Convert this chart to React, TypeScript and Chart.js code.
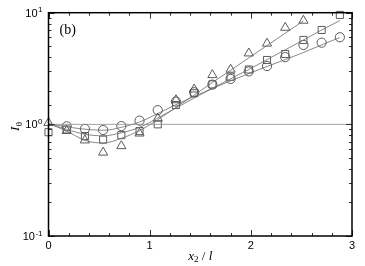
import React, { useEffect, useRef } from "react";
import { Chart, registerables } from "chart.js";

Chart.register(...registerables);

// ---- data ----
const xPositions = [0, 0.18, 0.36, 0.54, 0.72, 0.9, 1.08, 1.26, 1.44, 1.62, 1.8, 1.98, 2.16, 2.34, 2.52, 2.7, 2.88];

const circleValues = [null, 0.96, 0.91, 0.89, 0.965, 1.08, 1.34, 1.6, 1.94, 2.27, 2.55, 2.98, 3.33, 4.0, 5.14, 5.39, 6.03];
const squareValues = [0.85, 0.9, 0.785, 0.73, 0.8, 0.87, 1.0, 1.49, 1.9, 2.28, 2.67, 3.1, 3.77, 4.27, 5.7, 7.0, 9.55];
const triangleValues = [1.03, 0.875, 0.72, 0.56, 0.64, 0.83, 1.13, 1.65, 2.06, 2.77, 3.1, 4.33, 5.3, 7.35, 8.5];

const circleFit = [1.01, 0.95, 0.905, 0.885, 0.94, 1.05, 1.25, 1.5, 1.78, 2.1, 2.45, 2.85, 3.3, 3.8, 4.4, 5.15, 6.0];
const squareFit = [1.01, 0.9, 0.815, 0.79, 0.84, 0.94, 1.14, 1.4, 1.72, 2.1, 2.56, 3.1, 3.8, 4.65, 5.7, 7.0, 8.5];
const triangleFit = [1.02, 0.87, 0.72, 0.68, 0.75, 0.88, 1.1, 1.42, 1.83, 2.37, 3.05, 3.94, 5.08, 6.55, 8.45];

const refLineX = [0, 3];
const refLineY = [1, 1];

const xTickLabels = ["0", "1", "2", "3"];
const yTickDecades = [-1, 0, 1];

const panelLabel = "(b)";

// ---- helpers ----
const toPoints = (xs: number[], ys: (number | null)[]) =>
  ys.map((y, i) => ({ x: xs[i], y }));

const isInt = (v: number) => Math.abs(v - Math.round(v)) < 1e-6;

const SERIF = "'Liberation Serif', 'Times New Roman', serif";
const SANS = "'Liberation Sans', Arial, sans-serif";

const decorPlugin = {
  id: "decor",
  afterDatasetsDraw(chart: any) {
    const { ctx, chartArea: a, scales } = chart;
    const xs = scales.x;
    const ys = scales.y;
    ctx.save();

    // inside tick marks
    ctx.strokeStyle = "#333";
    ctx.lineWidth = 1;
    ctx.beginPath();
    xs.ticks.forEach((t: any) => {
      const px = Math.round(xs.getPixelForValue(t.value)) + 0.5;
      const len = isInt(t.value) ? 6 : 3;
      ctx.moveTo(px, a.bottom);
      ctx.lineTo(px, a.bottom - len);
      ctx.moveTo(px, a.top);
      ctx.lineTo(px, a.top + len);
    });
    ys.ticks.forEach((t: any) => {
      const py = Math.round(ys.getPixelForValue(t.value)) + 0.5;
      const len = isInt(Math.log10(t.value)) ? 6 : 3;
      ctx.moveTo(a.left, py);
      ctx.lineTo(a.left + len, py);
      ctx.moveTo(a.right, py);
      ctx.lineTo(a.right - len, py);
    });
    ctx.stroke();

    // frame
    ctx.strokeStyle = "#000";
    ctx.lineWidth = 1.5;
    ctx.strokeRect(a.left, a.top, a.right - a.left, a.bottom - a.top);

    // y tick labels 10^n
    ctx.fillStyle = "#000";
    yTickDecades.forEach((e) => {
      const py = ys.getPixelForValue(Math.pow(10, e));
      const expText = String(e);
      ctx.font = `8px ${SANS}`;
      const expW = ctx.measureText(expText).width;
      const xEnd = a.left - 6;
      ctx.textAlign = "left";
      ctx.textBaseline = "alphabetic";
      ctx.fillText(expText, xEnd - expW, py - 0.5);
      ctx.font = `11px ${SANS}`;
      ctx.textAlign = "right";
      ctx.textBaseline = "middle";
      ctx.fillText("10", xEnd - expW - 0.5, py + 1);
    });

    // panel label
    ctx.font = `14px ${SERIF}`;
    ctx.textAlign = "left";
    ctx.textBaseline = "alphabetic";
    ctx.fillText(panelLabel, 59.5, 34);

    // x axis title: x2 / l
    {
      const base = 259.5;
      const parts = [
        { t: "x", f: `italic 13px ${SERIF}`, dy: 0 },
        { t: "2", f: `9px ${SERIF}`, dy: 2.5 },
        { t: " / ", f: `13px ${SERIF}`, dy: 0 },
        { t: "l", f: `italic 13px ${SERIF}`, dy: 0 },
      ];
      let total = 0;
      parts.forEach((p) => {
        ctx.font = p.f;
        total += ctx.measureText(p.t).width;
      });
      let x = (a.left + a.right) / 2 - total / 2;
      ctx.textAlign = "left";
      ctx.textBaseline = "alphabetic";
      parts.forEach((p) => {
        ctx.font = p.f;
        ctx.fillText(p.t, x, base + p.dy);
        x += ctx.measureText(p.t).width;
      });
    }

    // y axis title: I_theta (rotated)
    {
      ctx.translate(18.5, 131);
      ctx.rotate(-Math.PI / 2);
      ctx.textAlign = "left";
      ctx.textBaseline = "alphabetic";
      ctx.font = `italic 13px ${SERIF}`;
      ctx.fillText("I", 0, 0);
      const w = ctx.measureText("I").width;
      ctx.font = `9px ${SERIF}`;
      ctx.fillText("θ", w + 0.5, 3.5);
    }

    ctx.restore();
  },
};

export default function App() {
  const canvasRef = useRef<HTMLCanvasElement | null>(null);

  useEffect(() => {
    document.body.style.margin = "0";
    const canvas = canvasRef.current;
    if (!canvas) return;

    const lineColor = "#6a6a6a";
    const markColor = "#4a4a4a";

    const fitLine = (data: any[]) => ({
      data,
      showLine: true,
      borderColor: lineColor,
      borderWidth: 0.8,
      pointRadius: 0,
      pointHoverRadius: 0,
      cubicInterpolationMode: "monotone" as const,
      fill: false,
      clip: false as any,
    });

    const markers = (data: any[], style: string, r: number) => ({
      data,
      showLine: false,
      pointStyle: style,
      pointRadius: r,
      pointBorderColor: markColor,
      pointBackgroundColor: "rgba(0,0,0,0)",
      pointBorderWidth: 0.9,
      clip: false as any,
    });

    const chart = new Chart(canvas, {
      type: "scatter",
      data: {
        datasets: [
          {
            data: toPoints(refLineX, refLineY),
            showLine: true,
            borderColor: "#8a8a8a",
            borderWidth: 0.8,
            pointRadius: 0,
            clip: false as any,
          } as any,
          fitLine(toPoints(xPositions, circleFit)),
          fitLine(toPoints(xPositions, squareFit)),
          fitLine(toPoints(xPositions, triangleFit)),
          markers(toPoints(xPositions, circleValues), "circle", 4.6),
          markers(toPoints(xPositions, squareValues), "rect", 5),
          markers(toPoints(xPositions, triangleValues), "triangle", 5.3),
        ],
      },
      options: {
        responsive: false,
        animation: false,
        devicePixelRatio: 1,
        events: [],
        layout: { padding: { left: 0, right: 13, top: 12.7, bottom: 0 } },
        plugins: {
          legend: { display: false },
          tooltip: { enabled: false },
        },
        scales: {
          x: {
            type: "linear",
            min: 0,
            max: 3,
            border: { display: false },
            grid: { display: false, drawTicks: false },
            ticks: {
              stepSize: 0.2,
              autoSkip: false,
              maxRotation: 0,
              padding: 3,
              color: "#000",
              font: { family: SANS, size: 11 },
              callback: (v: any) => {
                const n = Number(v);
                return isInt(n) ? xTickLabels[Math.round(n)] : "";
              },
            },
            afterFit: (s: any) => {
              s.height = 30;
            },
          },
          y: {
            type: "logarithmic",
            min: 0.1,
            max: 10,
            border: { display: false },
            grid: { display: false, drawTicks: false },
            ticks: { display: false },
            afterFit: (s: any) => {
              s.width = 48.5;
            },
          },
        },
      } as any,
      plugins: [decorPlugin],
    });

    return () => chart.destroy();
  }, []);

  return (
    <div style={{ position: "absolute", left: 0, top: 0, width: 365, height: 266, background: "#fff" }}>
      <canvas ref={canvasRef} width={365} height={266} />
    </div>
  );
}
